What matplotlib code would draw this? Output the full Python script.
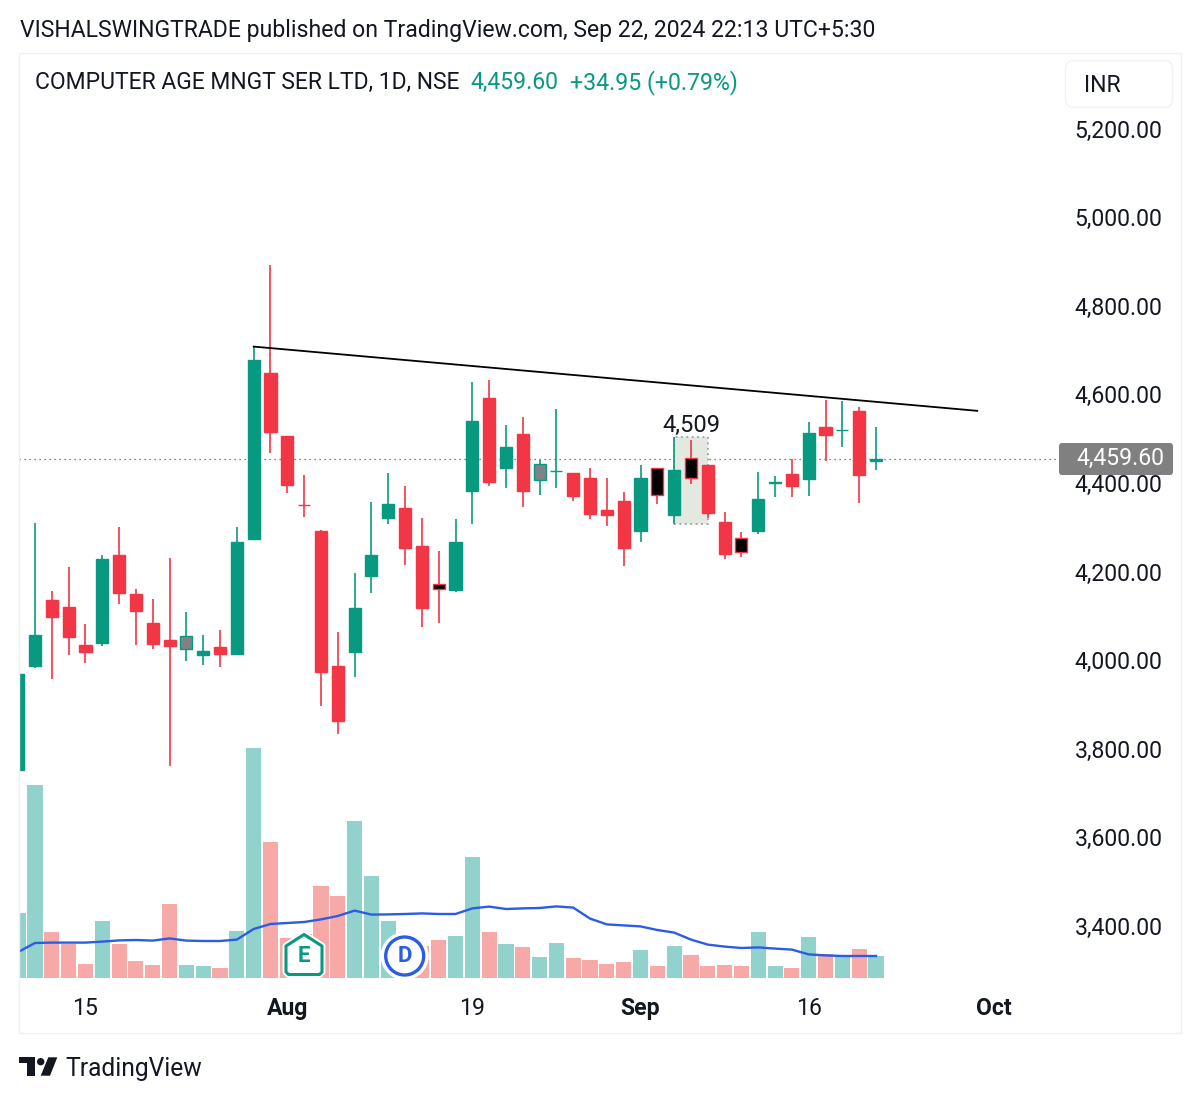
#!/usr/bin/python

import matplotlib
matplotlib.use('Agg')
import matplotlib.pyplot as plt
from matplotlib.patches import Rectangle, Polygon, Circle, FancyBboxPatch
from matplotlib.transforms import ScaledTranslation

plt.rcParams['font.family'] = ['Roboto', 'DejaVu Sans']

GREEN = '#089981'
RED = '#F23645'
GREEN_VOL = '#92D2CC'
RED_VOL = '#F7A9A7'
BLUE = '#2B5CE6'
INK = '#131722'

# daily candles, oldest first
opens = [3758, 3993, 4142, 4127, 4040, 4044, 4243, 4155, 4089, 4051, 4032, 4018, 4036,
         4021, 4279, 4654, 4512, 4357.5, 4298, 3993, 4025, 4196, 4328, 4349, 4263, 4177,
         4164, 4389, 4598, 4440, 4516, 4412, 4432.5, 4428, 4417, 4346, 4365, 4298, 4441,
         4334, 4462, 4447, 4319, 4282, 4298, 4406.5, 4426, 4416, 4533, 4525.5, 4568, 4455]
highs = [3976, 4316, 4162, 4217, 4088, 4243, 4307, 4166, 4144, 4237, 4115, 4062, 4075,
         4307, 4714, 4898, 4512, 4424, 4300, 4070, 4202, 4364, 4428, 4399, 4328, 4253,
         4325, 4635, 4638, 4538, 4555, 4459, 4572, 4428, 4439, 4417, 4386, 4447, 4441,
         4509, 4503, 4447, 4340, 4296, 4432, 4422, 4461, 4543, 4593, 4591, 4577, 4532]
lows = [3758, 3989, 3964, 4018, 4000, 4038, 4134, 4040, 4032, 3767, 4005, 3995, 3991,
        4021, 4279, 4473, 4384, 4329, 3903, 3840, 3969, 4158, 4313, 4221, 4081, 4090,
        4160, 4313, 4400, 4395, 4352, 4380, 4395, 4365, 4325, 4310, 4218, 4273, 4359,
        4313, 4403, 4326, 4234, 4240, 4292, 4375, 4375, 4377, 4456, 4488, 4360, 4436]
closes = [3976, 4064, 4104, 4059, 4025, 4234, 4158, 4117, 4042, 4039, 4060, 4027, 4021,
          4273, 4683, 4522, 4401, 4356.5, 3979, 3869, 4123, 4243, 4359, 4260, 4124, 4167,
          4272, 4545, 4408, 4487, 4387, 4448, 4433.5, 4377, 4335, 4334, 4260, 4417, 4378,
          4435, 4417, 4339, 4246, 4251, 4369, 4407.5, 4400, 4518, 4515, 4526.5, 4424.65, 4459.60]

# volume and its average, in thousands
volumes = [325, 967, 228, 170, 70, 287, 170, 87, 63, 372, 63, 60, 52,
           237, 1150, 680, 200, 220, 460, 412, 783, 512, 287, 150, 160, 188,
           212, 603, 228, 170, 157, 107, 175, 100, 90, 70, 82, 142, 60,
           162, 115, 60, 63, 60, 228, 60, 48, 203, 120, 112, 145, 112]
volume_ma = [130, 175, 177, 177, 177, 182, 188, 190, 187, 198, 187, 185, 185,
             192, 245, 270, 275, 280, 293, 310, 337, 317, 318, 320, 323, 320,
             320, 348, 357, 345, 348, 350, 358, 352, 297, 268, 263, 258, 240,
             227, 192, 167, 157, 150, 153, 147, 142, 118, 113, 110, 110, 110]

# candles whose body fill was recoloured on the chart
body_fills = {10: '#7F8388', 31: '#7F8388', 25: 'black', 38: 'black', 40: 'black', 43: 'black'}

price_ticks = [3400, 3600, 3800, 4000, 4200, 4400, 4600, 4800, 5000, 5200]
price_labels = ['3,400.00', '3,600.00', '3,800.00', '4,000.00', '4,200.00',
                '4,400.00', '4,600.00', '4,800.00', '5,000.00', '5,200.00']
time_ticks = [4, 16, 27, 37, 47, 58]
time_labels = ['15', 'Aug', '19', 'Sep', '16', 'Oct']
bold_labels = ['Aug', 'Sep', 'Oct']

last_price = 4459.60
trend_x = [14, 57.02]
trend_y = [4714, 4569]
box_x = [39, 41]
box_y = [4313, 4509]

W, H = 1200, 1101
XLIM = (0.048, 61.94)
fig = plt.figure(figsize=(W / 100, H / 100), dpi=100, facecolor='white')


def px_axes(left, top, right, bottom):
    return [left / W, 1 - bottom / H, (right - left) / W, (bottom - top) / H]


# volume sits in its own axes behind the candles
vol = fig.add_axes(px_axes(19, 52, 1060, 978), zorder=1)
ax = fig.add_axes(px_axes(19, 52, 1060, 978), zorder=2)
ax.patch.set_alpha(0)

idx = list(range(len(opens)))
up = [c >= o for o, c in zip(opens, closes)]

vol.bar(idx, volumes, width=0.9, color=[GREEN_VOL if u else RED_VOL for u in up])
vol.plot(idx, volume_ma, color=BLUE, lw=1.7)
vol.set_xlim(XLIM)
vol.set_ylim(0, 4630)
vol.axis('off')

ax.axhline(last_price, color='#555555', lw=0.9, ls=(0, (1, 3)), zorder=1)

ax.add_patch(Rectangle((box_x[0], box_y[0]), box_x[1] - box_x[0], box_y[1] - box_y[0],
                       facecolor='#E3E8E1', edgecolor='#9AA3A0', lw=1.3, ls=(0, (1, 2)), zorder=1.5))

for i in idx:
    c = GREEN if up[i] else RED
    ax.vlines(i, lows[i], highs[i], color=c, lw=1.2, zorder=2)
    bottom = min(opens[i], closes[i])
    height = abs(closes[i] - opens[i])
    ax.bar(i, height, bottom=bottom, width=0.72, color=body_fills.get(i, c),
           edgecolor=c, lw=1.0, zorder=3)

ax.plot(trend_x, trend_y, color='black', lw=1.3, zorder=4)
ax.text(40, 4509 + 2, '4,509', ha='center', va='bottom', fontsize=17, color=INK, zorder=5)

ax.set_xlim(XLIM)
ax.set_ylim(3288.7, 5379)
ax.yaxis.tick_right()
ax.set_yticks(price_ticks)
ax.set_yticklabels(price_labels, fontsize=16.6, color=INK)
ax.set_xticks(time_ticks)
ax.set_xticklabels(time_labels, fontsize=16.6, color=INK)
for t in ax.get_xticklabels():
    if t.get_text() in bold_labels:
        t.set_fontweight('bold')
ax.tick_params(axis='both', length=0)
ax.tick_params(axis='y', pad=10.6)
ax.tick_params(axis='x', pad=14)
# price labels ride a little above their levels
for t in ax.get_yticklabels():
    t.set_transform(t.get_transform() + ScaledTranslation(0, 2.7 / 100, fig.dpi_scale_trans))
for s in ax.spines.values():
    s.set_visible(False)

# page furniture, laid out in pixels
top = fig.add_axes([0, 0, 1, 1], zorder=3)
top.set_xlim(0, W)
top.set_ylim(H, 0)
top.axis('off')

top.add_patch(Rectangle((18.5, 52.5), 1162.5, 980, fill=False, edgecolor='#EEF0F4', lw=1))
top.text(20, 30, 'VISHALSWINGTRADE published on TradingView.com, Sep 22, 2024 22:13 UTC+5:30',
         fontsize=16.56, color=INK, va='center', ha='left')
top.text(35, 82.5, 'COMPUTER AGE MNGT SER LTD, 1D, NSE', fontsize=16.45, color=INK, va='center', ha='left')
top.text(470, 82.5, '4,459.60', fontsize=16.6, color=GREEN, va='center', ha='left')
top.text(570, 82.5, '+34.95 (+0.79%)', fontsize=16.7, color=GREEN, va='center', ha='left')

top.add_patch(FancyBboxPatch((1065.5, 60.5), 107, 47, boxstyle='round,pad=0,rounding_size=8',
                             facecolor='white', edgecolor='#F0F1F4', lw=1))
top.text(1084, 85, 'INR', fontsize=16.6, color=INK, va='center', ha='left')

# last price tag
top.add_patch(FancyBboxPatch((1061, 445), 110, 28, boxstyle='round,pad=2,rounding_size=3',
                             facecolor='#808080', edgecolor='none'))
top.text(1076, 458.5, '4,459.60', fontsize=16.6, color='white', va='center', ha='left')

# earnings and dividend flags
house = [(304, 934.5), (322, 946), (322, 972), (319.5, 974.5), (288.5, 974.5), (286, 972), (286, 946)]
top.add_patch(Polygon(house, closed=True, facecolor='white', edgecolor='white', lw=5, joinstyle='round'))
top.add_patch(Polygon(house, closed=True, facecolor='white', edgecolor=GREEN, lw=2.2, joinstyle='round'))
top.text(304, 956, 'E', fontsize=16, fontweight='bold', color=GREEN, ha='center', va='center')
top.add_patch(Circle((404.7, 956), 20.5, facecolor='white', edgecolor='white', lw=5))
top.add_patch(Circle((404.7, 956), 19, facecolor='white', edgecolor='#2B5CE6', lw=2.4))
top.text(404.7, 956, 'D', fontsize=16, fontweight='bold', color='#2B5CE6', ha='center', va='center')

# TradingView logo
top.add_patch(Polygon([(19, 1057.3), (35, 1057.3), (35, 1075.7), (27.3, 1075.7), (27.3, 1063.3), (19, 1063.3)],
                      closed=True, facecolor=INK, edgecolor='none'))
top.add_patch(Circle((40.7, 1061.7), 3.7, facecolor=INK, edgecolor='none'))
top.add_patch(Polygon([(48.3, 1057.3), (57.3, 1057.3), (50, 1075.7), (40.7, 1075.7)],
                      closed=True, facecolor=INK, edgecolor='none'))
top.text(65, 1069, 'TradingView', fontsize=17.7, color=INK, va='center', ha='left')

plt.savefig('out.png', dpi=100)
